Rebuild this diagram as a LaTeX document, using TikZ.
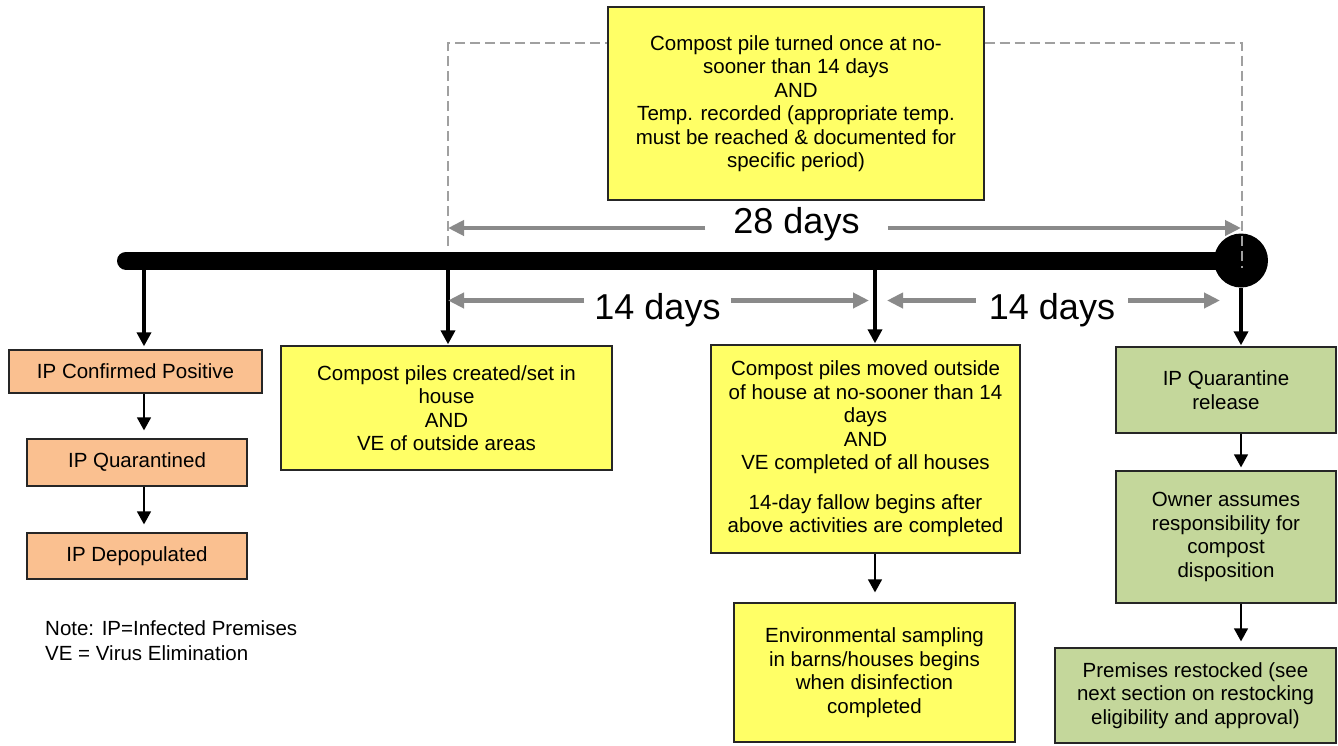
\documentclass[tikz,border=0pt]{standalone}
\usepackage{fontspec}
\setmainfont{Liberation Sans}
\usetikzlibrary{positioning,arrows.meta,calc}

\definecolor{peach}{HTML}{FAC090}
\definecolor{lemon}{HTML}{FFFF66}
\definecolor{sage}{HTML}{C4D79B}
\definecolor{arrowgray}{HTML}{8A8A8A}
\definecolor{dashgray}{HTML}{A0A0A0}

\tikzset{
  box/.style={draw=black!85, line width=1.3pt, align=center, inner sep=0pt,
    font=\fontsize{20.5}{23.5}\selectfont},
  ipbox/.style={box, fill=peach},
  yelbox/.style={box, fill=lemon},
  grnbox/.style={box, fill=sage},
  bigarrow/.style={line width=3.5pt, -{Triangle[length=14pt,width=14pt]}},
  smallarrow/.style={line width=1.5pt, -{Triangle[length=13pt,width=14pt]}},
  grayarrow/.style={arrowgray, line width=4.5pt, -{Triangle[length=16pt,width=15pt]}},
  dashline/.style={dashgray, line width=2.6pt, dash pattern=on 10pt off 5pt},
  glabel/.style={inner xsep=10pt, inner ysep=0pt, font=\fontsize{36}{40}\selectfont}
}

\begin{document}
\begin{tikzpicture}[x=1pt,y=-1pt]
  \useasboundingbox (0,0) rectangle (1338,745);

  % boxes
  \node[ipbox, minimum width=253, minimum height=43] (cp) at (135.5,371.5) {IP Confirmed Positive};
  \node[ipbox, minimum width=220, minimum height=47] (q) at (137,462.5) {IP Quarantined};
  \node[ipbox, minimum width=220, minimum height=46] (d) at (137,556) {IP Depopulated};
  \node[yelbox, minimum width=331, minimum height=124] (cc) at (446.5,408)
    {Compost piles created/set in\\house\\AND\\VE of outside areas};
  \node[yelbox, minimum width=309, minimum height=208] (cm) at (865.5,449)
    {Compost piles moved outside\\of house at no-sooner than 14\\days\\AND\\VE completed of all houses\\[16pt]
     14-day fallow begins after\\above activities are completed};
  \node[yelbox, minimum width=281, minimum height=139] (es) at (874.5,672.5)
    {Environmental sampling\\in barns/houses begins\\when disinfection\\completed};
  \node[yelbox, minimum width=376, minimum height=193] (tc) at (796,103.5)
    {Compost pile turned once at no-\\sooner than 14 days\\AND\\Temp. recorded (appropriate temp.\\must be reached \& documented for\\specific period)};
  \node[grnbox, minimum width=220, minimum height=86] (qr) at (1226,390) {IP Quarantine\\release};
  \node[grnbox, minimum width=220, minimum height=132] (ow) at (1226,537)
    {Owner assumes\\responsibility for\\compost\\disposition};
  \node[grnbox, minimum width=281, minimum height=95] (pr) at (1195.5,695.5)
    {Premises restocked (see\\next section on restocking\\eligibility and approval)};

  \node[anchor=base west, align=left, inner sep=0pt, font=\fontsize{20.5}{24.5}\selectfont] (note) at (45,660)
    {Note: IP=Infected Premises\\VE = Virus Elimination};

  % timeline
  \coordinate (b0) at (126,260.5);
  \coordinate (a1) at (144,260.5);
  \coordinate (a2) at (448,260.5);
  \coordinate (a3) at (875,260.5);
  \node[circle, fill=black, minimum size=54, inner sep=0pt] (dot) at (1241,260.5) {};
  \draw[line width=18pt, line cap=round] (b0) -- (dot.center);

  \draw[bigarrow, shorten >=3pt] (a1) -- (a1 |- cp.north);
  \draw[bigarrow, shorten >=1pt] (a2) -- (a2 |- cc.north);
  \draw[bigarrow, shorten >=1pt] (a3) -- (a3 |- cm.north);
  \draw[bigarrow, shorten >=1pt] (dot.south) -- (dot.south |- qr.north);

  \draw[smallarrow, shorten >=8pt] (cp.south -| a1) -- (q.north -| a1);
  \draw[smallarrow, shorten >=8pt] (q.south -| a1) -- (d.north -| a1);
  \draw[smallarrow, shorten >=10pt] (cm.south -| a3) -- (es.north -| a3);
  \draw[smallarrow, shorten >=3pt] (qr.south -| dot) -- (ow.north -| dot);
  \draw[smallarrow, shorten >=6pt] (ow.south -| dot) -- (pr.north -| dot);

  % day spans
  \coordinate (t28l) at (448,228);
  \coordinate (t28r) at (1241,228);
  \node[glabel, inner xsep=28pt] (n28) at (796.5,224) {28 days};
  \draw[grayarrow] (n28.west |- t28l) -- (t28l);
  \draw[grayarrow] (n28.east |- t28r) -- (t28r);

  \coordinate (t14a) at (448,300.5);
  \coordinate (t14b) at (869,300.5);
  \coordinate (t14c) at (887,300.5);
  \coordinate (t14d) at (1220,300.5);
  \node[glabel] (n14a) at (657.5,310) {14 days};
  \node[glabel, inner xsep=13pt] (n14b) at (1052,310) {14 days};
  \draw[grayarrow] (n14a.west |- t14a) -- (t14a);
  \draw[grayarrow] (n14a.east |- t14b) -- (t14b);
  \draw[grayarrow] (n14b.west |- t14c) -- (t14c);
  \draw[grayarrow] (n14b.east |- t14d) -- (t14d);

  % dashed bracket
  \coordinate (dy) at (0,43);
  \coordinate (dl) at (448,246);
  \coordinate (dr) at (1242,268);
  \draw[dashline] (dl) |- (tc.west |- dy);
  \draw[dashline] (tc.east |- dy) -| (dr);
\end{tikzpicture}
\end{document}
